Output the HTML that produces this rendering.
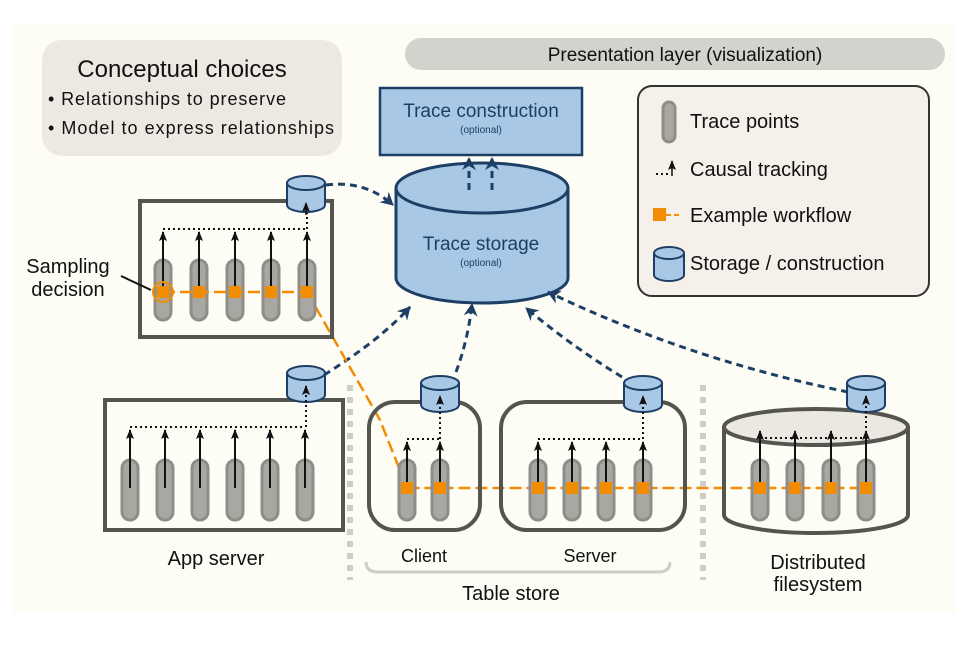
<!DOCTYPE html>
<html><head><meta charset="utf-8"><style>
html,body{margin:0;padding:0;background:#fff}
svg{display:block;font-family:"Liberation Sans",sans-serif}
</style></head><body>
<svg width="972" height="649" viewBox="0 0 972 649" xmlns="http://www.w3.org/2000/svg">
<defs>
<marker id="ah" markerWidth="10" markerHeight="8" refX="9" refY="4" orient="auto" markerUnits="userSpaceOnUse" viewBox="0 0 10 8">
<path d="M0,0 L10,4 L0,8 L2,4 Z" fill="#111"/></marker>
<marker id="bh" markerWidth="14" markerHeight="14" refX="12" refY="7" orient="auto" markerUnits="userSpaceOnUse" viewBox="0 0 14 14">
<path d="M0,0 L13,7 L0,14 L4,7 Z" fill="#1d3f66"/></marker>
<g id="cap"><rect x="-8" y="0" width="16" height="60" rx="8" fill="#a9a7a1" stroke="#8f8d88" stroke-width="3"/></g>
<g id="cyl">
<path d="M-19,-10 L-19,12 A19,7 0 0 0 19,12 L19,-10" fill="#a9c8e6" stroke="#1d3f66" stroke-width="2"/>
<ellipse cx="0" cy="-10" rx="19" ry="7" fill="#a9c8e6" stroke="#1d3f66" stroke-width="2"/>
</g>
</defs>
<rect x="12" y="25" width="943" height="588" fill="#fdfcf5"/>
<!-- conceptual -->
<rect x="42" y="40" width="300" height="116" rx="20" fill="#ede9e2"/>
<text x="182" y="77" font-size="24" text-anchor="middle" fill="#111">Conceptual choices</text>
<text x="48" y="105" font-size="18" fill="#111" textLength="238">• Relationships to preserve</text>
<text x="48" y="134" font-size="18" fill="#111" textLength="286">• Model to express relationships</text>
<!-- presentation -->
<rect x="405" y="38" width="540" height="32" rx="16" fill="#d4d2cc"/>
<text x="685" y="61" font-size="19" text-anchor="middle" fill="#111">Presentation layer (visualization)</text>
<!-- trace construction -->
<rect x="380" y="88" width="202" height="67" fill="#a9c8e6" stroke="#1d3f66" stroke-width="2.5"/>
<text x="481" y="117" font-size="19" text-anchor="middle" fill="#1d3f66">Trace construction</text>
<text x="481" y="133" font-size="10" text-anchor="middle" fill="#1d3f66">(optional)</text>
<!-- storage -->
<path d="M396,188 L396,278 A86,25 0 0 0 568,278 L568,188" fill="#a9c8e6" stroke="#1d3f66" stroke-width="3"/>
<ellipse cx="482" cy="188" rx="86" ry="25" fill="#a9c8e6" stroke="#1d3f66" stroke-width="3"/>
<text x="481" y="250" font-size="19" text-anchor="middle" fill="#1d3f66">Trace storage</text>
<text x="481" y="266" font-size="10" text-anchor="middle" fill="#1d3f66">(optional)</text>
<g stroke="#1d3f66" stroke-width="3" stroke-dasharray="7,5" fill="none">
<line x1="469" y1="190" x2="469" y2="158" marker-end="url(#bh)"/>
<line x1="492" y1="190" x2="492" y2="158" marker-end="url(#bh)"/>
<path d="M326,185 Q365,180 393,205" marker-end="url(#bh)"/>
<path d="M324,375 Q380,340 410,307" marker-end="url(#bh)"/>
<path d="M456,372 Q468,340 472,304" marker-end="url(#bh)"/>
<path d="M622,377 Q570,345 526,308" marker-end="url(#bh)"/>
<path d="M848,392 Q690,360 548,292" marker-end="url(#bh)"/>
</g>
<!-- legend -->
<rect x="638" y="86" width="291" height="210" rx="14" fill="#f5f0e9" stroke="#333" stroke-width="2"/>
<rect x="663" y="102" width="12" height="40" rx="6" fill="#a9a7a1" stroke="#8f8d88" stroke-width="3"/>
<text x="690" y="128" font-size="20" fill="#111">Trace points</text>
<line x1="656" y1="174" x2="671" y2="174" stroke="#111" stroke-width="2" stroke-dasharray="2,3"/>
<line x1="672" y1="176" x2="672" y2="161" stroke="#111" stroke-width="1.5" marker-end="url(#ah)"/>
<text x="690" y="176" font-size="20" fill="#111">Causal tracking</text>
<rect x="653" y="208" width="13" height="13" fill="#f28c00"/>
<line x1="666" y1="215" x2="682" y2="215" stroke="#f28c00" stroke-width="2" stroke-dasharray="5,3"/>
<text x="690" y="222" font-size="20" fill="#111">Example workflow</text>
<g transform="translate(669,263)"><path d="M-15,-10 L-15,12 A15,6 0 0 0 15,12 L15,-10" fill="#a9c8e6" stroke="#1d3f66" stroke-width="2"/><ellipse cx="0" cy="-10" rx="15" ry="6" fill="#a9c8e6" stroke="#1d3f66" stroke-width="2"/></g>
<text x="690" y="270" font-size="20" fill="#111">Storage / construction</text>
<!-- orange path -->
<path d="M307,292 L380,420 L407,488 L866,488" fill="none" stroke="#f28c00" stroke-width="2.5" stroke-dasharray="12,5"/>
<!-- sampling box -->
<rect x="140" y="201" width="192" height="136" fill="none" stroke="#55554f" stroke-width="4"/>
<g><use href="#cap" x="163" y="260"/><use href="#cap" x="199" y="260"/><use href="#cap" x="235" y="260"/><use href="#cap" x="271" y="260"/><use href="#cap" x="307" y="260"/></g>
<line x1="163" y1="229" x2="307" y2="229" stroke="#111" stroke-width="2" stroke-dasharray="2,3"/>
<g stroke="#111" stroke-width="2"><line x1="163" y1="292" x2="163" y2="232" marker-end="url(#ah)"/><line x1="199" y1="292" x2="199" y2="232" marker-end="url(#ah)"/><line x1="235" y1="292" x2="235" y2="232" marker-end="url(#ah)"/><line x1="271" y1="292" x2="271" y2="232" marker-end="url(#ah)"/><line x1="307" y1="292" x2="307" y2="232" marker-end="url(#ah)"/></g>
<line x1="163" y1="292" x2="307" y2="292" stroke="#f28c00" stroke-width="2.5" stroke-dasharray="12,5"/>
<line x1="307" y1="229" x2="307" y2="203" stroke="#111" stroke-width="2" stroke-dasharray="2,3" marker-end="url(#ah)"/>
<g fill="#f28c00"><rect x="157" y="286" width="12" height="12"/><rect x="193" y="286" width="12" height="12"/><rect x="229" y="286" width="12" height="12"/><rect x="265" y="286" width="12" height="12"/><rect x="301" y="286" width="12" height="12"/></g>
<circle cx="163" cy="292" r="10" fill="none" stroke="#f28c00" stroke-width="2"/>
<use href="#cyl" x="306" y="193"/>
<line x1="306" y1="215" x2="306" y2="203" stroke="#111" stroke-width="1.5" marker-end="url(#ah)"/>
<text x="68" y="273" font-size="20" text-anchor="middle" fill="#111">Sampling</text>
<text x="68" y="296" font-size="20" text-anchor="middle" fill="#111">decision</text>
<line x1="121" y1="276" x2="151" y2="290" stroke="#111" stroke-width="2"/>
<!-- app server -->
<rect x="105" y="400" width="238" height="130" fill="none" stroke="#55554f" stroke-width="4"/>
<g><use href="#cap" x="130" y="460"/><use href="#cap" x="165" y="460"/><use href="#cap" x="200" y="460"/><use href="#cap" x="235" y="460"/><use href="#cap" x="270" y="460"/><use href="#cap" x="305" y="460"/></g>
<line x1="130" y1="427" x2="305" y2="427" stroke="#111" stroke-width="2" stroke-dasharray="2,3"/>
<g stroke="#111" stroke-width="2"><line x1="130" y1="488" x2="130" y2="430" marker-end="url(#ah)"/><line x1="165" y1="488" x2="165" y2="430" marker-end="url(#ah)"/><line x1="200" y1="488" x2="200" y2="430" marker-end="url(#ah)"/><line x1="235" y1="488" x2="235" y2="430" marker-end="url(#ah)"/><line x1="270" y1="488" x2="270" y2="430" marker-end="url(#ah)"/><line x1="305" y1="488" x2="305" y2="430" marker-end="url(#ah)"/></g>
<use href="#cyl" x="306" y="383"/>
<line x1="306" y1="427" x2="306" y2="386" stroke="#111" stroke-width="2" stroke-dasharray="2,3" marker-end="url(#ah)"/>
<text x="216" y="565" font-size="20" text-anchor="middle" fill="#111">App server</text>
<!-- separators -->
<line x1="350" y1="385" x2="350" y2="580" stroke="#cfcdc7" stroke-width="6" stroke-dasharray="6,6"/>
<line x1="703" y1="385" x2="703" y2="580" stroke="#cfcdc7" stroke-width="6" stroke-dasharray="6,6"/>
<!-- client -->
<rect x="369" y="402" width="111" height="128" rx="26" fill="none" stroke="#55554f" stroke-width="4"/>
<use href="#cap" x="407" y="460"/><use href="#cap" x="440" y="460"/>
<line x1="407" y1="439" x2="440" y2="439" stroke="#111" stroke-width="2" stroke-dasharray="2,3"/>
<g stroke="#111" stroke-width="2"><line x1="407" y1="488" x2="407" y2="442" marker-end="url(#ah)"/><line x1="440" y1="488" x2="440" y2="442" marker-end="url(#ah)"/></g>
<use href="#cyl" x="440" y="393"/>
<line x1="440" y1="439" x2="440" y2="396" stroke="#111" stroke-width="2" stroke-dasharray="2,3" marker-end="url(#ah)"/>
<!-- server -->
<rect x="501" y="402" width="184" height="128" rx="26" fill="none" stroke="#55554f" stroke-width="4"/>
<use href="#cap" x="538" y="460"/><use href="#cap" x="572" y="460"/><use href="#cap" x="606" y="460"/><use href="#cap" x="643" y="460"/>
<line x1="538" y1="439" x2="643" y2="439" stroke="#111" stroke-width="2" stroke-dasharray="2,3"/>
<g stroke="#111" stroke-width="2"><line x1="538" y1="488" x2="538" y2="442" marker-end="url(#ah)"/><line x1="572" y1="488" x2="572" y2="442" marker-end="url(#ah)"/><line x1="606" y1="488" x2="606" y2="442" marker-end="url(#ah)"/><line x1="643" y1="488" x2="643" y2="442" marker-end="url(#ah)"/></g>
<use href="#cyl" x="643" y="393"/>
<line x1="643" y1="439" x2="643" y2="396" stroke="#111" stroke-width="2" stroke-dasharray="2,3" marker-end="url(#ah)"/>
<!-- bracket -->
<path d="M366,562 Q366,572 378,572 L658,572 Q670,572 670,562" fill="none" stroke="#cfcdc7" stroke-width="3"/>
<text x="424" y="562" font-size="18" text-anchor="middle" fill="#111">Client</text>
<text x="590" y="562" font-size="18" text-anchor="middle" fill="#111">Server</text>
<text x="511" y="600" font-size="20" text-anchor="middle" fill="#111">Table store</text>
<!-- DFS -->
<path d="M724,427 L724,515 A92,18 0 0 0 908,515 L908,427" fill="none" stroke="#55554f" stroke-width="4"/>
<ellipse cx="816" cy="427" rx="92" ry="18" fill="#ebe8e2" stroke="#55554f" stroke-width="4"/>
<use href="#cap" x="760" y="460"/><use href="#cap" x="795" y="460"/><use href="#cap" x="831" y="460"/><use href="#cap" x="866" y="460"/>
<line x1="760" y1="438" x2="866" y2="438" stroke="#111" stroke-width="2" stroke-dasharray="2,3"/>
<g stroke="#111" stroke-width="2"><line x1="760" y1="488" x2="760" y2="431" marker-end="url(#ah)"/><line x1="795" y1="488" x2="795" y2="431" marker-end="url(#ah)"/><line x1="831" y1="488" x2="831" y2="431" marker-end="url(#ah)"/><line x1="866" y1="488" x2="866" y2="431" marker-end="url(#ah)"/></g>
<use href="#cyl" x="866" y="393"/>
<line x1="866" y1="438" x2="866" y2="396" stroke="#111" stroke-width="2" stroke-dasharray="2,3" marker-end="url(#ah)"/>
<text x="818" y="569" font-size="20" text-anchor="middle" fill="#111">Distributed</text>
<text x="818" y="591" font-size="20" text-anchor="middle" fill="#111">filesystem</text>
<!-- orange squares -->
<g fill="#f28c00"><rect x="401" y="482" width="12" height="12"/><rect x="434" y="482" width="12" height="12"/><rect x="532" y="482" width="12" height="12"/><rect x="566" y="482" width="12" height="12"/><rect x="600" y="482" width="12" height="12"/><rect x="637" y="482" width="12" height="12"/><rect x="754" y="482" width="12" height="12"/><rect x="789" y="482" width="12" height="12"/><rect x="825" y="482" width="12" height="12"/><rect x="860" y="482" width="12" height="12"/></g>
</svg>
</body></html>
